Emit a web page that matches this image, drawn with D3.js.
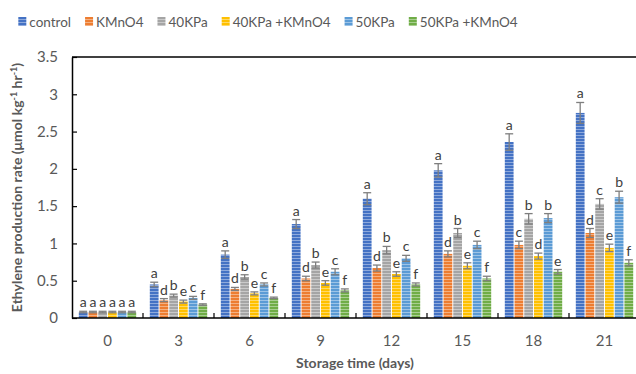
<!DOCTYPE html>
<html>
<head>
<meta charset="utf-8">
<script src="https://cdn.jsdelivr.net/npm/d3@7"></script>
<style>
  body { margin: 0; background: #fff; }
  svg { font-family: Lato, "Open Sans", sans-serif; }
</style>
</head>
<body>
<div id="chart"></div>
<script>
var days = ["0", "3", "6", "9", "12", "15", "18", "21"];
var seriesNames = ["control", "KMnO4", "40KPa", "40KPa +KMnO4", "50KPa", "50KPa +KMnO4"];
var seriesColors = ["#4472C4", "#ED7D31", "#A5A5A5", "#FFC000", "#5B9BD5", "#70AD47"];
var yTicks = [0, 0.5, 1, 1.5, 2, 2.5, 3, 3.5];

var control = [0.08, 0.45, 0.85, 1.26, 1.60, 1.98, 2.36, 2.75];
var kmno4 = [0.08, 0.24, 0.39, 0.53, 0.67, 0.86, 0.98, 1.14];
var kpa40 = [0.08, 0.30, 0.55, 0.71, 0.91, 1.14, 1.33, 1.53];
var kpa40k = [0.08, 0.22, 0.33, 0.47, 0.59, 0.70, 0.83, 0.94];
var kpa50 = [0.08, 0.27, 0.45, 0.62, 0.80, 0.98, 1.34, 1.62];
var kpa50k = [0.08, 0.18, 0.27, 0.37, 0.45, 0.53, 0.62, 0.74];

var controlErr = [0.01, 0.03, 0.05, 0.06, 0.08, 0.09, 0.11, 0.14];
var kmno4Err = [0.01, 0.02, 0.02, 0.03, 0.04, 0.04, 0.05, 0.06];
var kpa40Err = [0.01, 0.02, 0.03, 0.04, 0.05, 0.06, 0.07, 0.07];
var kpa40kErr = [0.01, 0.02, 0.02, 0.03, 0.03, 0.04, 0.04, 0.05];
var kpa50Err = [0.01, 0.02, 0.02, 0.04, 0.04, 0.05, 0.06, 0.08];
var kpa50kErr = [0.01, 0.01, 0.01, 0.02, 0.02, 0.03, 0.03, 0.04];

var controlLetters = ["a", "a", "a", "a", "a", "a", "a", "a"];
var kmno4Letters = ["a", "d", "d", "d", "d", "d", "c", "d"];
var kpa40Letters = ["a", "b", "b", "b", "b", "b", "b", "c"];
var kpa40kLetters = ["a", "e", "e", "e", "e", "e", "d", "e"];
var kpa50Letters = ["a", "c", "c", "c", "c", "c", "b", "b"];
var kpa50kLetters = ["a", "f", "f", "f", "f", "f", "e", "f"];

var values = [control, kmno4, kpa40, kpa40k, kpa50, kpa50k];
var errors = [controlErr, kmno4Err, kpa40Err, kpa40kErr, kpa50Err, kpa50kErr];
var letters = [controlLetters, kmno4Letters, kpa40Letters, kpa40kLetters, kpa50Letters, kpa50kLetters];

var width = 636, height = 374;
var margin = {top: 57, right: -4, bottom: 56, left: 72};
var plotW = width - margin.left - margin.right;
var plotH = height - margin.top - margin.bottom;

var svg = d3.select("#chart").append("svg")
  .attr("width", width)
  .attr("height", height);

// striped fills, one per series
var defs = svg.append("defs");
seriesColors.forEach(function (c, i) {
  var p = defs.append("pattern")
    .attr("id", "stripe" + i)
    .attr("patternUnits", "userSpaceOnUse")
    .attr("width", 4)
    .attr("height", 3);
  p.append("rect").attr("width", 4).attr("height", 3).attr("fill", c);
  p.append("rect").attr("width", 4).attr("height", 1).attr("fill", "#fff").attr("opacity", 0.4);
});

var g = svg.append("g")
  .attr("transform", "translate(" + margin.left + "," + margin.top + ")");

var x0 = d3.scaleBand().domain(days).range([0, plotW]).padding(0);
var x1 = d3.scaleBand().domain(d3.range(seriesNames.length))
  .range([0, x0.bandwidth()]).paddingInner(0.1).paddingOuter(0.7);
var y = d3.scaleLinear().domain([0, 3.5]).range([plotH, 0]);

// top border of plot area
g.append("line")
  .attr("x1", 0).attr("x2", plotW)
  .attr("y1", 0).attr("y2", 0)
  .attr("stroke", "#000").attr("stroke-width", 1.5);

// bars
var groups = g.selectAll(".day")
  .data(days)
  .enter().append("g")
  .attr("class", "day")
  .attr("transform", function (d) { return "translate(" + x0(d) + ",0)"; });

groups.each(function (day, di) {
  var grp = d3.select(this);
  seriesNames.forEach(function (s, si) {
    var v = values[si][di], e = errors[si][di];
    var bx = x1(si), bw = x1.bandwidth();
    grp.append("rect")
      .attr("x", bx)
      .attr("y", y(v))
      .attr("width", bw)
      .attr("height", plotH - y(v))
      .attr("fill", "url(#stripe" + si + ")");
    var cx = bx + bw / 2;
    var eg = grp.append("g").attr("stroke", "#7f7f7f").attr("stroke-width", 1.3);
    eg.append("line").attr("x1", cx).attr("x2", cx).attr("y1", y(v - e)).attr("y2", y(v + e));
    eg.append("line").attr("x1", cx - 4).attr("x2", cx + 4).attr("y1", y(v + e)).attr("y2", y(v + e));
    eg.append("line").attr("x1", cx - 4).attr("x2", cx + 4).attr("y1", y(v - e)).attr("y2", y(v - e));
    grp.append("text")
      .attr("x", cx)
      .attr("y", y(v + e) - 4)
      .attr("text-anchor", "middle")
      .attr("font-size", 14)
      .attr("fill", "#404040")
      .text(letters[si][di]);
  });
});

// y axis
var yAxis = g.append("g")
  .call(d3.axisLeft(y).tickValues(yTicks).tickFormat(d3.format("~g"))
    .tickSizeInner(-5).tickSizeOuter(0).tickPadding(14));
yAxis.select(".domain").attr("stroke", "#000").attr("stroke-width", 1.5);
yAxis.selectAll(".tick line").attr("stroke", "#000").attr("stroke-width", 1.2);
yAxis.selectAll(".tick text")
  .attr("font-size", 15)
  .attr("fill", "#595959")
  .attr("font-family", "Lato, sans-serif");

// x axis: baseline plus separators between groups
var xAxisG = g.append("g").attr("transform", "translate(0," + plotH + ")");
xAxisG.append("line")
  .attr("x1", 0).attr("x2", plotW)
  .attr("stroke", "#000").attr("stroke-width", 1.5);
xAxisG.selectAll(".sep")
  .data(days.slice(1))
  .enter().append("line")
  .attr("x1", function (d) { return x0(d); })
  .attr("x2", function (d) { return x0(d); })
  .attr("y1", 0).attr("y2", -5)
  .attr("stroke", "#000").attr("stroke-width", 1.2);
xAxisG.selectAll(".lab")
  .data(days)
  .enter().append("text")
  .attr("x", function (d) { return x0(d) + x0.bandwidth() / 2; })
  .attr("y", 28)
  .attr("text-anchor", "middle")
  .attr("font-size", 15)
  .attr("fill", "#595959")
  .text(function (d) { return d; });

// axis titles
svg.append("text")
  .attr("x", 355)
  .attr("y", 368)
  .attr("text-anchor", "middle")
  .attr("font-size", 14)
  .attr("font-weight", "bold")
  .attr("fill", "#595959")
  .text("Storage time (days)");

var yt = svg.append("text")
  .attr("transform", "translate(22," + (margin.top + plotH / 2) + ") rotate(-90)")
  .attr("text-anchor", "middle")
  .attr("font-size", 14)
  .attr("font-weight", "bold")
  .attr("fill", "#595959");
yt.append("tspan").text("Ethylene production rate (μmol kg");
yt.append("tspan").attr("font-size", 9).attr("dy", -5).text("-1");
yt.append("tspan").attr("dy", 5).text(" hr");
yt.append("tspan").attr("font-size", 9).attr("dy", -5).text("-1");
yt.append("tspan").attr("dy", 5).text(")");

// legend: items laid out left to right from measured text widths
var legend = svg.append("g");
var items = seriesNames.map(function (s, i) {
  var lg = legend.append("g");
  lg.append("rect").attr("y", -8).attr("width", 8).attr("height", 9).attr("fill", "url(#stripe" + i + ")");
  var t = lg.append("text")
    .attr("x", 11)
    .attr("y", 1.5)
    .attr("font-size", 13.5)
    .attr("fill", "#595959")
    .text(s);
  return {g: lg, w: 11 + t.node().getComputedTextLength()};
});
var gap = 14;
var total = d3.sum(items, function (d) { return d.w; }) + gap * (items.length - 1);
var lx = 268 - total / 2;
items.forEach(function (it) {
  it.g.attr("transform", "translate(" + lx + ",25)");
  lx += it.w + gap;
});
</script>
</body>
</html>
